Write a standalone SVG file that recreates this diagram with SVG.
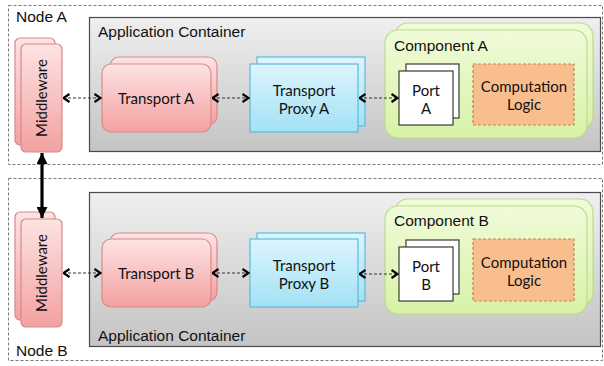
<svg xmlns="http://www.w3.org/2000/svg" width="604" height="366" viewBox="0 0 604 366">
  <style>
    .node-frame { fill: none; stroke: #7a7a7a; stroke-width: 1; stroke-dasharray: 3 2; }
    .container { fill: url(#gGray); stroke: #4a4a4a; stroke-width: 1.2; }
    .red { fill: url(#gRed); stroke: #d9898a; stroke-width: 1.2; }
    .blue { fill: url(#gBlue); stroke: #5cb9da; stroke-width: 1.2; }
    .green { fill: url(#gGreen); stroke: #b9dc8c; stroke-width: 1.2; }
    .port { fill: #ffffff; stroke: #3a3a3a; stroke-width: 1.2; }
    .logic { fill: #f9be8e; stroke: #c98252; stroke-width: 1.2; stroke-dasharray: 3 2; }
    .sans { font-family: "Liberation Sans", Arial, sans-serif; font-size: 15.5px; fill: #111; }
    .cal { font-family: Lato, "Open Sans", sans-serif; font-size: 15px; fill: #111; text-anchor: middle; }
    .link { stroke: #333; stroke-width: 1; stroke-dasharray: 3 2; fill: none; marker-start: url(#chev); marker-end: url(#chev); }
    .thick { stroke: #000; stroke-width: 3.2; fill: none; marker-start: url(#tri); marker-end: url(#tri); }
  </style>
  <defs>
    <linearGradient id="gGray" x1="0" y1="0" x2="0" y2="1">
      <stop offset="0" stop-color="#efefef"/>
      <stop offset="1" stop-color="#c4c4c4"/>
    </linearGradient>
    <linearGradient id="gRed" x1="0" y1="0" x2="0" y2="1">
      <stop offset="0" stop-color="#fde3e3"/>
      <stop offset="1" stop-color="#f3a1a1"/>
    </linearGradient>
    <linearGradient id="gBlue" x1="0" y1="0" x2="0" y2="1">
      <stop offset="0" stop-color="#dcf5fd"/>
      <stop offset="1" stop-color="#a3e1f5"/>
    </linearGradient>
    <linearGradient id="gGreen" x1="0" y1="0" x2="0" y2="1">
      <stop offset="0" stop-color="#f1fbd9"/>
      <stop offset="1" stop-color="#d7f2a6"/>
    </linearGradient>
    <marker id="chev" viewBox="0 0 8 10" refX="7.5" refY="5" markerWidth="8" markerHeight="10" markerUnits="userSpaceOnUse" orient="auto-start-reverse">
      <path d="M1,1 L7,5 L1,9" fill="none" stroke="#000" stroke-width="2.2"/>
    </marker>
    <marker id="tri" viewBox="0 0 10 10" refX="10" refY="5" markerWidth="11" markerHeight="11" markerUnits="userSpaceOnUse" orient="auto-start-reverse">
      <path d="M0,0 L10,5 L0,10 Z" fill="#000"/>
    </marker>
  </defs>

  <!-- Node A -->
  <g id="node-a">
    <rect class="node-frame" x="8.5" y="5.5" width="594" height="159"/>
    <text class="sans" x="16" y="22">Node A</text>
  </g>
  <!-- Node B -->
  <g id="node-b">
    <rect class="node-frame" x="8.5" y="178.5" width="594" height="182"/>
    <text class="sans" x="16" y="356">Node B</text>
  </g>

  <!-- Application containers -->
  <g id="container-a">
    <rect class="container" x="89.5" y="17.5" width="511" height="134"/>
    <text class="sans" x="98" y="37">Application Container</text>
  </g>
  <g id="container-b">
    <rect class="container" x="89.5" y="192.5" width="511" height="154"/>
    <text class="sans" x="98" y="341">Application Container</text>
  </g>

  <!-- Middleware -->
  <g id="middleware-a">
    <rect class="red" x="15" y="38" width="40" height="107" rx="5"/>
    <rect class="red" x="21" y="44" width="41" height="108" rx="5"/>
    <text class="cal" transform="translate(46.5,98) rotate(-90)">Middleware</text>
  </g>
  <g id="middleware-b">
    <rect class="red" x="15" y="212" width="40" height="108" rx="5"/>
    <rect class="red" x="21" y="219" width="41" height="108" rx="5"/>
    <text class="cal" transform="translate(46.5,273) rotate(-90)">Middleware</text>
  </g>

  <!-- Transports -->
  <g id="transport-a">
    <rect class="red" x="110" y="57" width="107" height="68" rx="9"/>
    <rect class="red" x="102" y="64" width="109" height="68" rx="9"/>
    <text class="cal" x="156" y="104">Transport A</text>
  </g>
  <g id="transport-b">
    <rect class="red" x="110" y="233" width="107" height="68" rx="9"/>
    <rect class="red" x="102" y="239" width="109" height="68" rx="9"/>
    <text class="cal" x="156" y="279">Transport B</text>
  </g>

  <!-- Transport proxies -->
  <g id="proxy-a">
    <rect class="blue" x="257" y="57" width="108" height="69"/>
    <rect class="blue" x="250" y="64" width="108" height="68"/>
    <text class="cal" x="304" y="96">Transport</text>
    <text class="cal" x="304" y="114">Proxy A</text>
  </g>
  <g id="proxy-b">
    <rect class="blue" x="257" y="233" width="108" height="68"/>
    <rect class="blue" x="250" y="239" width="108" height="68"/>
    <text class="cal" x="304" y="271">Transport</text>
    <text class="cal" x="304" y="289">Proxy B</text>
  </g>

  <!-- Components -->
  <g id="component-a">
    <rect class="green" x="395" y="23" width="198" height="106" rx="13"/>
    <rect class="green" x="385" y="30" width="202" height="108" rx="13"/>
    <text class="sans" x="394" y="51">Component A</text>
    <g id="port-a">
      <rect class="port" x="406" y="64" width="53" height="54"/>
      <rect class="port" x="399" y="71" width="54" height="54"/>
      <text class="cal" x="426" y="96">Port</text>
      <text class="cal" x="426" y="114">A</text>
    </g>
    <g id="logic-a">
      <rect class="logic" x="473" y="64" width="101" height="61"/>
      <text class="cal" x="524" y="92">Computation</text>
      <text class="cal" x="524" y="110">Logic</text>
    </g>
  </g>
  <g id="component-b">
    <rect class="green" x="395" y="199" width="198" height="107" rx="13"/>
    <rect class="green" x="385" y="206" width="202" height="108" rx="13"/>
    <text class="sans" x="394" y="226">Component B</text>
    <g id="port-b">
      <rect class="port" x="406" y="240" width="53" height="54"/>
      <rect class="port" x="399" y="247" width="54" height="54"/>
      <text class="cal" x="426" y="272">Port</text>
      <text class="cal" x="426" y="290">B</text>
    </g>
    <g id="logic-b">
      <rect class="logic" x="473" y="239" width="101" height="62"/>
      <text class="cal" x="524" y="268">Computation</text>
      <text class="cal" x="524" y="286">Logic</text>
    </g>
  </g>

  <!-- Connectors -->
  <g id="connectors">
    <line class="link" x1="63" y1="98" x2="101" y2="98"/>
    <line class="link" x1="212" y1="98" x2="249" y2="98"/>
    <line class="link" x1="359" y1="98" x2="398" y2="98"/>
    <line class="link" x1="63" y1="273" x2="101" y2="273"/>
    <line class="link" x1="212" y1="273" x2="249" y2="273"/>
    <line class="link" x1="359" y1="274" x2="398" y2="274"/>
    <line class="thick" x1="42" y1="153" x2="42" y2="218"/>
  </g>
</svg>
